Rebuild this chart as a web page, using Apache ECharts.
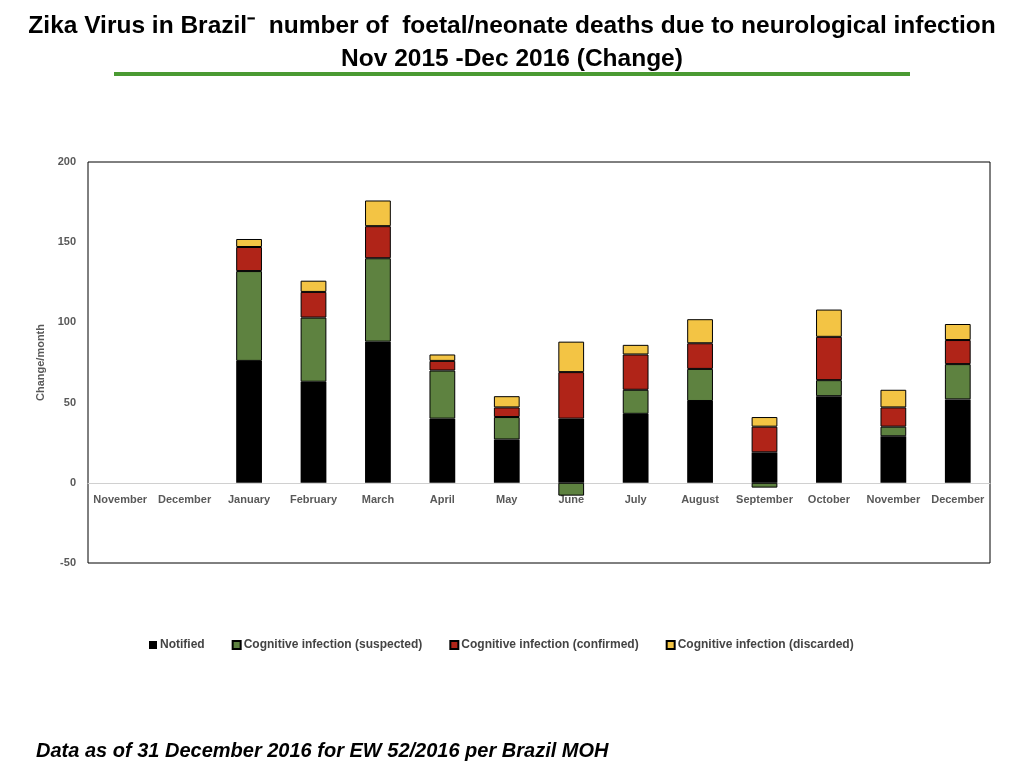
<!DOCTYPE html>
<html>
<head>
<meta charset="utf-8">
<script src="https://cdn.jsdelivr.net/npm/echarts@6/dist/echarts.min.js"></script>
<style>
  html, body { margin: 0; padding: 0; background: #fff; }
  #main { width: 1024px; height: 768px; }
</style>
</head>
<body>
<div id="main"></div>
<script>
var months = ['November', 'December', 'January', 'February', 'March', 'April', 'May',
              'June', 'July', 'August', 'September', 'October', 'November', 'December'];
// values per month (change); Nov/Dec 2015 have no bars
var notified   = ['-', '-', 76, 63, 88, 40, 27, 40, 43, 51, 19, 54, 29, 52];
var suspected  = ['-', '-', 56, 40, 52, 30, 14, -8, 15, 20, -3, 10, 6, 22];
var confirmed  = ['-', '-', 15, 16, 20, 6, 6, 29, 22, 16, 16, 27, 12, 15];
var discarded  = ['-', '-', 5, 7, 16, 4, 7, 19, 6, 15, 6, 17, 11, 10];
var yTicks = [-50, 0, 50, 100, 150, 200];

var myChart = echarts.init(document.getElementById('main'));

function bar(name, data, color, border) {
    return {
        name: name,
        type: 'bar',
        stack: 'total',
        barWidth: '40%',
        data: data,
        itemStyle: {
            color: color,
            borderColor: '#000',
            borderWidth: border ? 1 : 0
        }
    };
}

var option = {
    backgroundColor: '#fff',
    animation: false,
    title: [
        {
            text: 'Zika Virus in Brazil\u207B  number of  foetal/neonate deaths due to neurological infection\nNov 2015 -Dec 2016 (Change)',
            left: 'center',
            top: 5,
            textStyle: {
                fontFamily: '"Liberation Sans Narrow", "Liberation Sans", Arial, sans-serif',
                fontWeight: 'bold',
                fontSize: 24.5,
                lineHeight: 33,
                color: '#000'
            }
        },
        {
            text: 'Data as of 31 December 2016 for EW 52/2016 per Brazil MOH',
            left: 31,
            top: 736,
            textStyle: {
                fontFamily: '"Liberation Sans", Arial, sans-serif',
                fontWeight: 'bold',
                fontStyle: 'italic',
                fontSize: 20,
                color: '#000'
            }
        }
    ],
    graphic: [
        {
            type: 'rect',
            shape: { x: 114, y: 72, width: 796, height: 4 },
            style: { fill: '#4a9a32' }
        }
    ],
    legend: {
        top: 634,
        left: 144,
        itemWidth: 8,
        itemHeight: 8,
        itemGap: 27,
        icon: 'rect',
        textStyle: {
            fontFamily: '"Liberation Sans", Arial, sans-serif',
            fontWeight: 'bold',
            fontSize: 12,
            color: '#444',
            padding: [0, 0, 0, -2]
        }
    },
    grid: {
        left: 88,
        right: 34,
        top: 162,
        bottom: 205,
        show: true,
        borderColor: '#000',
        borderWidth: 1,
        containLabel: false
    },
    xAxis: {
        type: 'category',
        data: months,
        offset: -80,
        axisLine: { onZero: false, lineStyle: { color: '#d0d0d0', width: 1 } },
        axisTick: { show: false },
        axisLabel: {
            interval: 0,
            margin: 11,
            fontFamily: '"Liberation Sans", Arial, sans-serif',
            fontWeight: 'bold',
            fontSize: 11,
            color: '#595959'
        }
    },
    yAxis: {
        type: 'value',
        min: yTicks[0],
        max: yTicks[yTicks.length - 1],
        interval: 50,
        name: 'Change/month',
        nameLocation: 'middle',
        nameGap: 33,
        nameTextStyle: {
            fontFamily: '"Liberation Sans", Arial, sans-serif',
            fontWeight: 'bold',
            fontSize: 11,
            color: '#595959'
        },
        axisLine: { show: false },
        axisTick: { show: false },
        splitLine: { show: false },
        axisLabel: {
            margin: 12,
            fontFamily: '"Liberation Sans", Arial, sans-serif',
            fontWeight: 'bold',
            fontSize: 11,
            color: '#595959'
        }
    },
    series: [
        bar('Notified', notified, '#000000', false),
        bar('Cognitive infection (suspected)', suspected, '#5e8240', true),
        bar('Cognitive infection (confirmed)', confirmed, '#b02418', true),
        bar('Cognitive infection (discarded)', discarded, '#f3c444', true)
    ]
};

myChart.setOption(option);
</script>
</body>
</html>
